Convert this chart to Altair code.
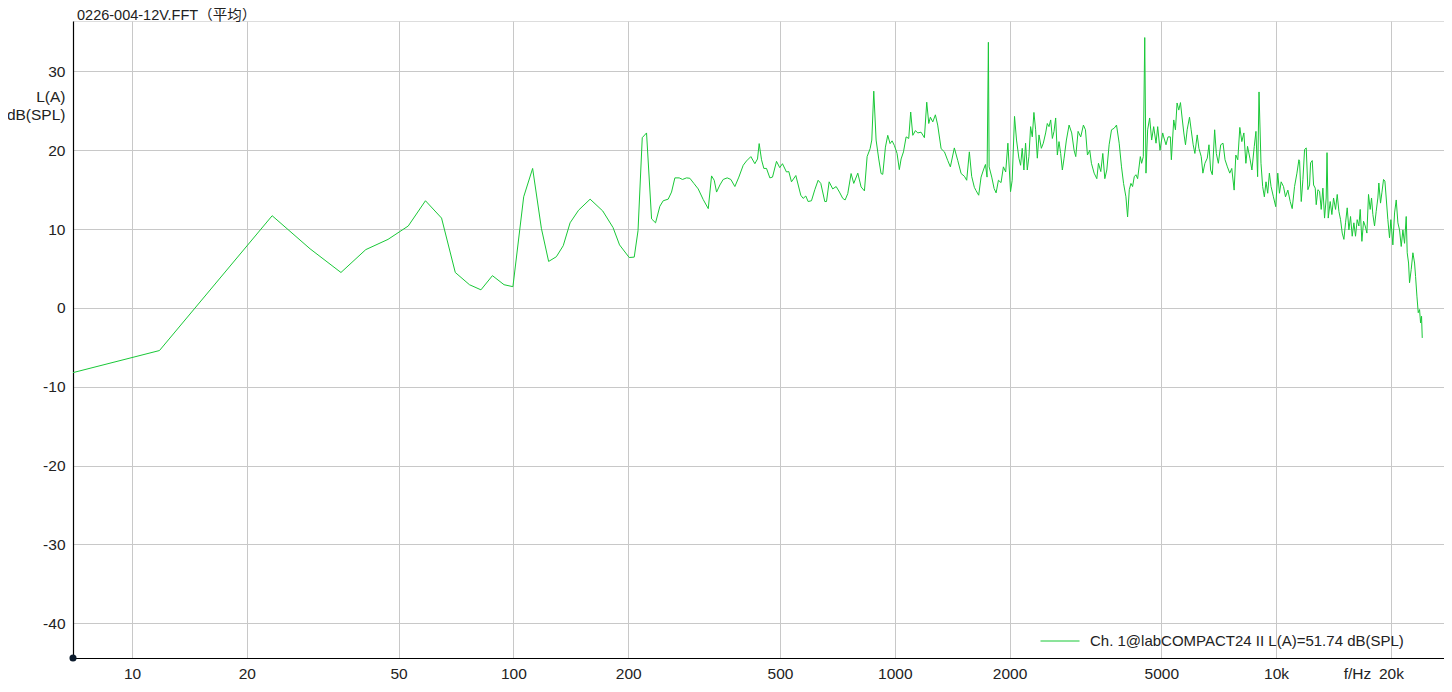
import altair as alt
import pandas as pd

# ---- data ----
freq = [
    7.0, 11.8, 23.3, 29.3, 35.3, 41.0, 46.9, 53.0, 58.8, 64.8,
    70.4, 76.7, 82.2, 88.1, 94.5, 99.7, 106.4, 112.3, 118.4, 123.7,
    129.6, 135.1, 140.8, 148.2, 158.9, 171.5, 182.5, 189.8, 201.2, 207.4,
    212.2, 217.7, 223.4, 230.3, 235.9, 242.1, 247.1, 254.6, 259.8, 265.1,
    272.1, 277.6, 284.4, 290.2, 297.3, 305.2, 314.6, 324.3, 330.8, 336.2,
    341.0, 347.9, 354.9, 363.6, 371.7, 380.8, 390.1, 400.5, 408.6, 419.4,
    429.7, 436.6, 441.0, 447.3, 453.6, 461.0, 470.4, 478.0, 489.7, 499.4,
    507.6, 520.0, 527.4, 536.0, 550.3, 567.0, 575.1, 584.4, 592.7, 604.8,
    617.1, 629.6, 639.8, 655.5, 662.2, 672.9, 687.6, 702, 716, 730.5,
    741, 752.9, 768.3, 780.7, 799.9, 816.1, 832.7, 846.3, 861.7, 870.5,
    881.0, 893.5, 907.8, 920.7, 930.1, 945.2, 958.5, 972.2, 984.0, 997.9,
    1014, 1028, 1039, 1054, 1071, 1088, 1101, 1115, 1133, 1149,
    1172, 1196, 1213, 1228, 1240, 1258, 1278, 1296, 1323, 1350,
    1377, 1399, 1433, 1463, 1493, 1523, 1544, 1569, 1591, 1617,
    1633, 1660, 1684, 1708, 1729, 1746, 1760, 1768, 1796, 1822,
    1844, 1870, 1900, 1927, 1954, 1980, 2012, 2032, 2061, 2086,
    2116, 2138, 2159, 2181, 2203, 2226, 2248, 2271, 2294, 2317,
    2341, 2365, 2389, 2423, 2452, 2487, 2512, 2538, 2564, 2590,
    2616, 2642, 2669, 2696, 2723, 2751, 2780, 2819, 2865, 2911,
    2953, 2983, 3025, 3074, 3124, 3163, 3201, 3246, 3279, 3333,
    3387, 3421, 3470, 3512, 3555, 3598, 3649, 3702, 3762, 3815,
    3877, 3932, 3981, 4038, 4079, 4121, 4162, 4204, 4247, 4290,
    4334, 4405, 4440, 4485, 4524, 4558, 4604, 4660, 4717, 4775,
    4843, 4892, 4961, 5042, 5072, 5144, 5207, 5281, 5313, 5390,
    5445, 5500, 5556, 5613, 5670, 5728, 5786, 5845, 5928, 5988,
    6061, 6123, 6211, 6274, 6363, 6427, 6506, 6599, 6668, 6735,
    6804, 6900, 6970, 7056, 7157, 7258, 7347, 7452, 7559, 7651,
    7762, 7841, 7935, 8033, 8131, 8231, 8332, 8416, 8536, 8641,
    8765, 8854, 8944, 9020, 9128, 9221, 9315, 9409, 9506, 9602,
    9700, 9838, 9977, 10101, 10205, 10309, 10457, 10583, 10735, 10889,
    11021, 11179, 11340, 11476, 11523, 11640, 11757, 11875, 11995, 12117,
    12240, 12314, 12439, 12540, 12665, 12741, 12871, 13002, 13131, 13264,
    13399, 13532, 13600, 13699, 13864, 14005, 14147, 14318, 14464, 14611,
    14757, 14907, 15059, 15209, 15363, 15520, 15674, 15833, 15995, 16154,
    16318, 16484, 16617, 16788, 16954, 17126, 17301, 17473, 17650, 17793,
    17937, 18119, 18299, 18486, 18597, 18786, 18938, 19131, 19286, 19442,
    19635, 19835, 19999, 20240, 20446, 20654, 20864, 21072, 21286, 21503,
    21717, 21938, 22070, 22249, 22383, 22611, 22841, 23074, 23213, 23401,
    23590, 23781, 23924, 24068, 24168,
]
level = [
    -8.2, -5.4, 11.7, 7.5, 4.5, 7.4, 8.7, 10.4, 13.6, 11.4,
    4.5, 2.95, 2.3, 4.1, 2.95, 2.7, 14.1, 17.7, 10.1, 5.9,
    6.5, 7.9, 10.8, 12.4, 13.8, 12.3, 10.2, 8.0, 6.4, 6.45,
    9.8, 21.6, 22.2, 11.3, 10.8, 12.9, 13.6, 13.8, 14.7, 16.5,
    16.5, 16.3, 16.5, 16.45, 15.8, 15.1, 13.75, 12.6, 16.75, 16.2,
    14.7, 15.6, 16.3, 16.5, 16.3, 15.4, 16.6, 18.1, 18.65, 19.2,
    18.3, 18.9, 20.85, 18.8, 17.7, 17.7, 16.5, 16.6, 18.6, 17.8,
    18.3, 17.25, 17.3, 16.0, 16.8, 14.3, 13.9, 14.2, 13.5, 13.6,
    15.0, 16.2, 15.8, 13.5, 13.5, 16.0, 15.1, 15.4, 14.7, 13.9,
    13.7, 14.5, 17.05, 15.8, 17.1, 15.35, 14.85, 19.2, 20.2, 21.3,
    27.5, 21.3, 18.9, 17.05, 16.95, 20.4, 21.9, 20.85, 21.2, 20.6,
    19.6, 17.55, 18.9, 19.8, 21.7, 21.5, 24.85, 21.9, 22.5, 22.2,
    22.3, 21.6, 26.1, 23.4, 24.2, 23.6, 24.5, 23.2, 20.2, 19.8,
    18.7, 17.9, 20.3, 18.7, 17.05, 16.7, 16.2, 19.8, 16.7, 15.3,
    14.9, 14.3, 16.6, 17.5, 18.2, 16.6, 33.7, 17.9, 16.6, 15.15,
    14.6, 16.2, 15.9, 17.9, 17.25, 20.9, 14.75, 16.2, 24.3, 21.3,
    19.0, 18.1, 20.25, 17.5, 20.9, 17.5, 19.2, 23.0, 21.7, 24.8,
    22.6, 19.0, 21.95, 20.25, 20.9, 22.2, 23.4, 23.0, 23.85, 21.5,
    22.4, 24.1, 19.4, 21.1, 19.6, 17.5, 19.0, 21.3, 23.2, 22.2,
    20.0, 19.2, 22.4, 21.7, 23.2, 22.6, 19.4, 20.0, 18.35, 17.1,
    16.4, 18.35, 17.3, 19.6, 16.4, 17.5, 20.7, 22.6, 22.8, 23.2,
    20.9, 17.9, 15.8, 14.1, 11.55, 15.0, 15.8, 15.4, 16.65, 16.9,
    16.4, 19.2, 18.35, 19.2, 34.3, 17.1, 22.6, 24.1, 21.3, 23.0,
    20.9, 23.0, 20.0, 22.2, 21.7, 20.7, 21.7, 21.7, 18.8, 23.85,
    22.6, 26.0, 25.1, 26.05, 24.1, 22.2, 20.7, 22.6, 24.2, 22.6,
    20.7, 19.6, 21.95, 20.25, 19.2, 17.1, 18.35, 19.0, 20.7, 17.5,
    16.9, 22.6, 19.6, 18.35, 20.7, 20.9, 18.8, 17.9, 17.1, 17.7,
    14.95, 19.4, 18.8, 22.9, 21.1, 22.2, 18.35, 20.5, 19.0, 17.5,
    20.5, 22.4, 16.65, 27.4, 18.35, 15.4, 14.1, 16.0, 14.55, 17.1,
    15.4, 14.1, 12.85, 17.1, 14.55, 16.0, 15.4, 14.1, 14.95, 13.5,
    12.6, 15.4, 17.1, 18.8, 18.6, 13.5, 16.3, 20.1, 20.3, 15.0,
    15.6, 18.4, 18.7, 15.6, 15.2, 13.1, 15.0, 14.8, 12.5, 15.2,
    11.4, 13.95, 19.7, 11.4, 13.5, 11.85, 13.95, 12.5, 14.4, 12.25,
    11.2, 9.5, 8.7, 10.8, 12.7, 9.9, 11.6, 9.1, 10.8, 9.1,
    11.2, 10.4, 12.5, 8.45, 11.0, 10.4, 9.5, 14.4, 12.5, 13.95,
    11.85, 10.4, 12.25, 13.95, 15.85, 13.3, 14.6, 16.3, 16.1, 13.95,
    11.2, 8.9, 11.2, 8.0, 12.05, 13.7, 10.8, 9.9, 7.8, 9.9,
    8.2, 11.6, 7.0, 5.7, 3.2, 4.9, 7.0, 5.7, 4.0, 1.5,
    -0.6, -0.2, -1.9, -1.05, -3.8,
]
series_name = "Ch. 1@labCOMPACT24 II L(A)=51.74 dB(SPL)"
chart_title = "0226-004-12V.FFT（平均）"
y_title = ["L(A)", "dB(SPL)"]
x_title = "f/Hz"
x_ticks = [10, 20, 50, 100, 200, 500, 1000, 2000, 5000, 10000, 20000]
y_ticks = [-40, -30, -20, -10, 0, 10, 20, 30]
x_domain = [7.0, 27560]
y_domain = [-44.4, 36.4]

df = pd.DataFrame({"f": freq, "L": level, "series": series_name})
one = pd.DataFrame({"t": [chart_title]})

W, H = 1371, 637
FONT = "Liberation Sans, Arial, Noto Sans CJK SC, sans-serif"
TXT = "#222222"
GREEN = "#19c837"
FS = 15.5

line = alt.Chart(df).mark_line(strokeWidth=1, clip=True).encode(
    x=alt.X(
        "f:Q",
        scale=alt.Scale(type="log", domain=x_domain, nice=False),
        axis=alt.Axis(
            values=x_ticks,
            labelExpr="datum.value >= 10000 ? (datum.value / 1000) + 'k' : '' + datum.value",
            title=x_title,
            titleX=1284, titleY=20, titleAlign="center", titleBaseline="alphabetic",
            titleFontWeight="normal", titleFontSize=FS, titleColor=TXT, titleFont=FONT,
            labelFont=FONT, labelFontSize=FS, labelColor=TXT,
            labelPadding=8, labelBaseline="top", labelFlush=False, labelOverlap=False,
            ticks=False, tickSize=0,
            grid=True, gridColor="#c8c8c8", gridWidth=1,
            domainColor="black", domainWidth=1.2,
        ),
    ),
    y=alt.Y(
        "L:Q",
        scale=alt.Scale(domain=y_domain, nice=False, zero=False),
        axis=alt.Axis(
            values=y_ticks,
            labelExpr="'' + datum.value",
            title=y_title,
            titleAngle=0, titleAlign="right", titleBaseline="alphabetic",
            titleX=-8, titleY=80, titleLineHeight=18,
            titleFontWeight="normal", titleFontSize=FS, titleColor=TXT, titleFont=FONT,
            labelFont=FONT, labelFontSize=FS, labelColor=TXT,
            labelPadding=8, labelBaseline="middle", labelFlush=False, labelOverlap=False,
            ticks=False, tickSize=0,
            grid=True, gridColor="#c8c8c8", gridWidth=1,
            domainColor="black", domainWidth=1.2,
        ),
    ),
    color=alt.Color(
        "series:N",
        scale=alt.Scale(range=[GREEN]),
        legend=alt.Legend(
            title=None, orient="none", legendX=967, legendY=600,
            symbolType="stroke", symbolSize=1521, symbolStrokeWidth=1,
            labelFontSize=15, labelFont=FONT, labelColor=TXT, labelOffset=10,
            padding=0, labelLimit=600,
        ),
    ),
)

dot = alt.Chart(one).mark_circle(size=50, color="#0b1a2c", opacity=1).encode(
    x=alt.value(0), y=alt.value(H)
)

title_txt = alt.Chart(one).mark_text(
    align="left", baseline="alphabetic", fontSize=14.5, font=FONT, color=TXT
).encode(x=alt.value(4), y=alt.value(-1.5), text="t:N")

chart = (
    alt.layer(line, dot, title_txt)
    .properties(
        width=W, height=H,
        autosize=alt.AutoSizeParams(type="none"),
        padding={"left": 65, "top": 13, "right": 0, "bottom": 22},
    )
    .configure_view(stroke="black", strokeWidth=1)
    .configure(background="white")
)

chart.save("out.html", embed_options={"renderer": "svg", "actions": False})
